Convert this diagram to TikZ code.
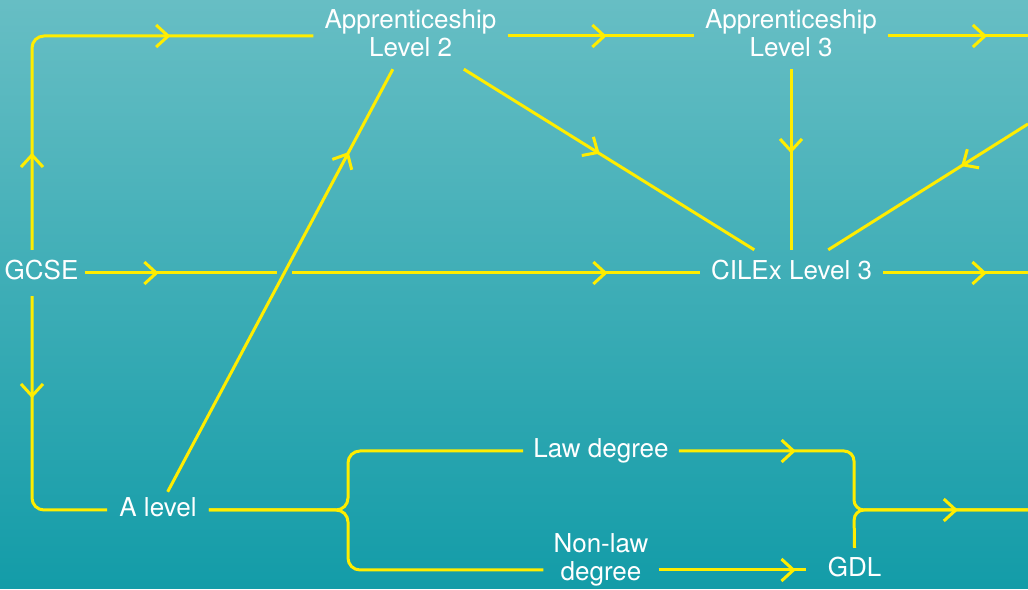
\documentclass[tikz,border=0pt]{standalone}
\usepackage{fontspec}
\setmainfont{TeX Gyre Heros}
\usetikzlibrary{arrows.meta,decorations.markings,calc}
\definecolor{bgtop}{RGB}{103,190,196}
\definecolor{bgbot}{RGB}{19,156,168}
\definecolor{bgmid}{RGB}{64,174,183}
\definecolor{ylw}{RGB}{255,237,0}
\tikzset{
  lbl/.style={text=white, font=\fontsize{26}{28}\selectfont, text height=19pt, text depth=5pt,
              inner xsep=11pt, inner ysep=11pt, align=center},
  twoline/.style={text height=47pt},
  conn/.style={draw=ylw, line width=3pt},
  tipat/.style={postaction={decorate, decoration={markings,
      mark=at position #1 with {\arrow{Straight Barb[length=12pt,width=22pt]}}}}},
}
\begin{document}
\begin{tikzpicture}[x=1pt,y=1pt]
\shade[top color=bgtop, bottom color=bgbot] (0,0) rectangle (1028,589);
\useasboundingbox (0,0) rectangle (1028,589);

% nodes
\node[lbl, twoline, inner ysep=7pt] (A2) at (410.5,553) {Apprenticeship\\Level 2};
\node[lbl, twoline, inner ysep=7pt] (A3) at (791,553) {Apprenticeship\\Level 3};
\node[lbl, inner xsep=6pt] (GCSE) at (41.5,316) {GCSE};
\node[lbl] (CIL) at (791.5,316) {CILEx Level 3};
\node[lbl, inner xsep=12pt, inner ysep=6pt] (AL) at (158,79) {A level};
\node[lbl, inner xsep=10pt] (LAW) at (601,138) {Law degree};
\node[lbl, twoline, inner xsep=10pt, text depth=25pt, inner ysep=2pt] (NL) at (601,19) {Non-law\\degree};
\node[lbl, inner xsep=22pt, inner ysep=10pt] (GDL) at (854.5,19) {GDL};

% helper coordinates
\coordinate (rail) at (32,316);
\coordinate (lbr) at (348,79);
\coordinate (rbr) at (854,79);
\coordinate (outA3) at (1028,553);
\coordinate (outC) at (1028,316);
\coordinate (outR) at (1028,79);
\coordinate (inC) at (1028,465);

% connectors
\draw[conn, rounded corners=12pt, tipat=97pt, tipat=347pt]
  (GCSE.north -| rail) -- (rail |- A2.west) -- (A2.west);
\draw[conn, rounded corners=12pt, tipat=102pt]
  (GCSE.south -| rail) -- (rail |- AL.west) -- (AL.west);
\draw[conn, tipat=74pt, tipat=523pt] (GCSE.east) -- (CIL.west);
\fill[bgmid] (277,312) rectangle (292,320);
\draw[conn, tipat=385pt] (AL) -- (A2);

\draw[conn, tipat=99pt] (A2.east) -- (A3.west);
\draw[conn, tipat=99pt] (A3.east) -- (outA3);
\draw[conn, tipat=103.5pt] (CIL.east) -- (outC);
\draw[conn, tipat=84pt] (A3.south) -- (A3.south |- CIL.north);
\draw[conn, tipat=160pt] (A2) -- (CIL);
\draw[conn, tipat=79pt] (inC) -- (CIL);

% degree routes
\draw[conn, rounded corners=12pt] (AL.east) -- (lbr) -- (lbr |- LAW.west) -- (LAW.west);
\draw[conn, rounded corners=12pt] (AL.east) -- (lbr) -- (lbr |- NL.west) -- (NL.west);
\draw[conn, rounded corners=10pt, tipat=117pt, tipat=-70pt]
  (LAW.east) -- (rbr |- LAW.east) -- (rbr) -- (outR);
\draw[conn, tipat=137pt] (NL.east) -- (GDL.west);
\draw[conn, rounded corners=10pt] (GDL.north) -- (rbr) -- (outR);
\end{tikzpicture}
\end{document}
